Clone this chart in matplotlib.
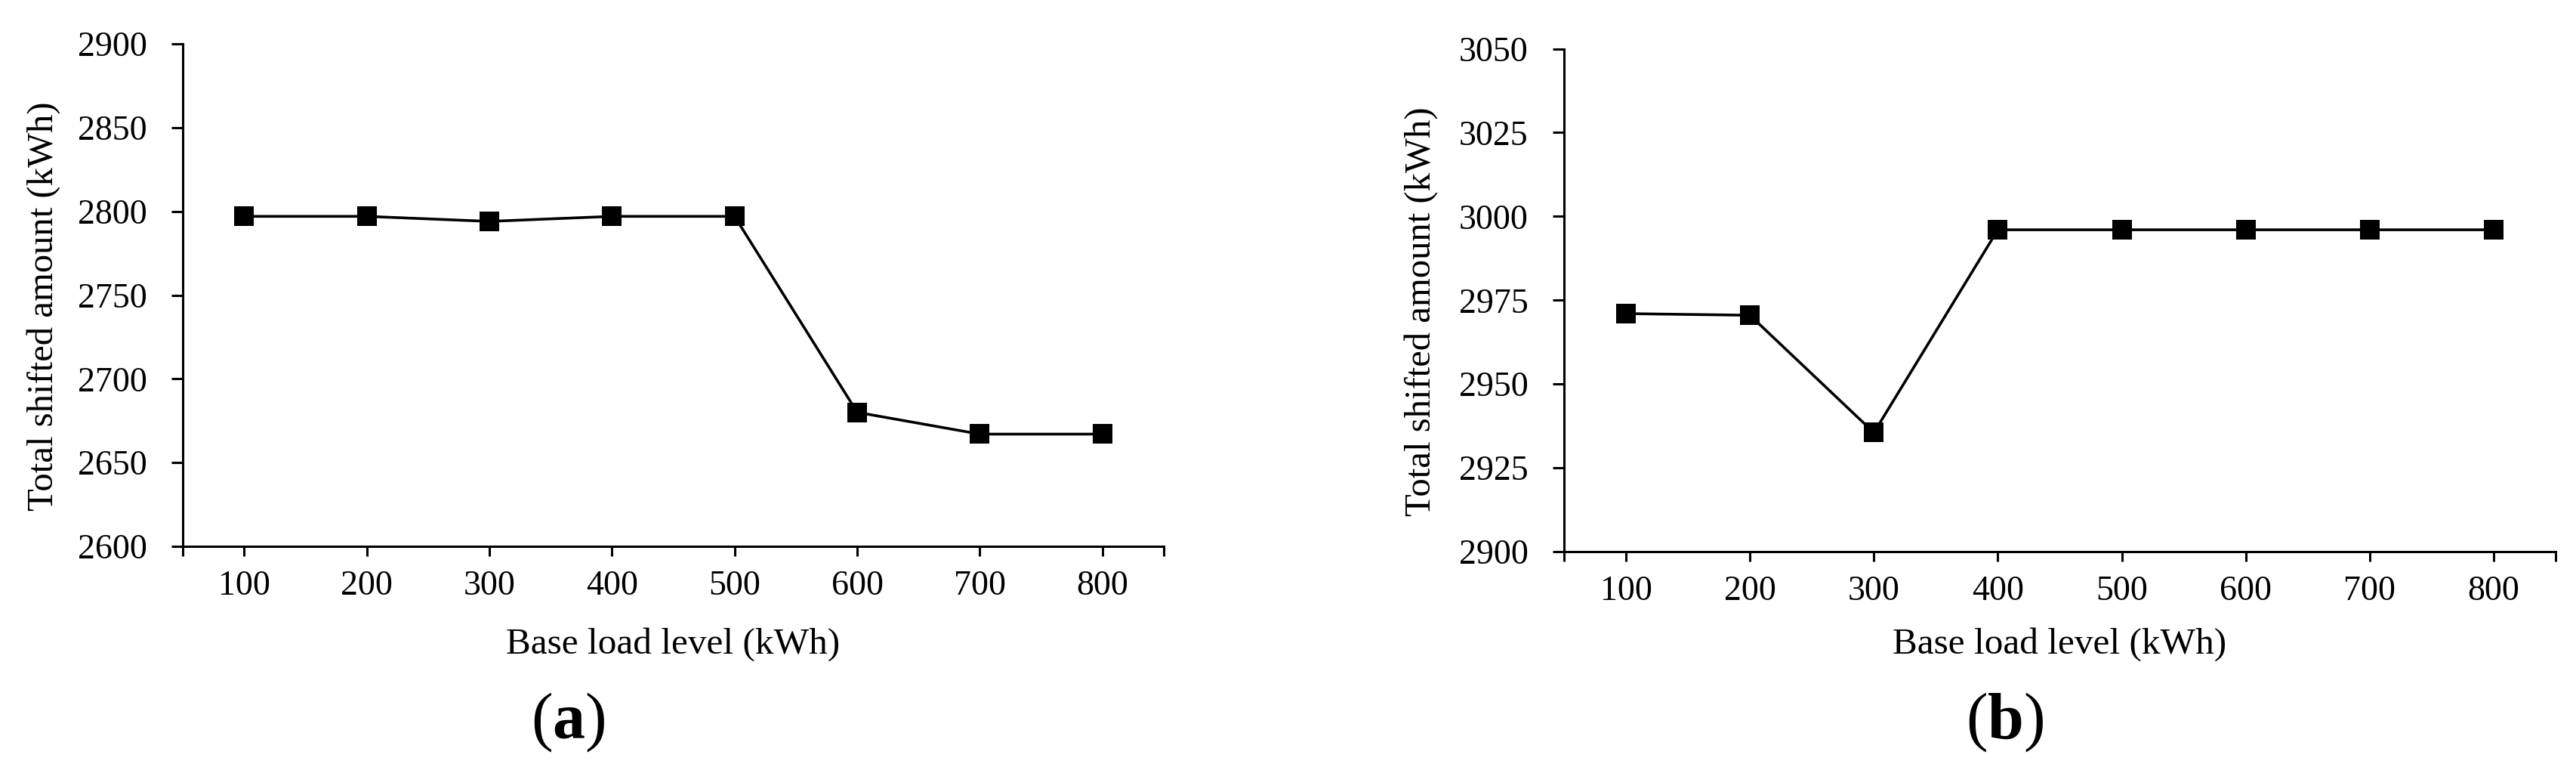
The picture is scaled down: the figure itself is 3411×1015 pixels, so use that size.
import numpy as np
import matplotlib
matplotlib.use('Agg')
import matplotlib.pyplot as plt

# Data
base_load = [100, 200, 300, 400, 500, 600, 700, 800]
shifted_a = [2797, 2797, 2794, 2797, 2797, 2680, 2667, 2667]
shifted_b = [2971, 2970.5, 2935.5, 2996, 2996, 2996, 2996, 2996]

yticks_a = [2600, 2650, 2700, 2750, 2800, 2850, 2900]
yticks_b = [2900, 2925, 2950, 2975, 3000, 3025, 3050]

xlabel = 'Base load level (kWh)'
ylabel = 'Total shifted amount (kWh)'

plt.rcParams.update({
    'font.family': 'Liberation Serif',
    'mathtext.fontset': 'custom',
    'mathtext.rm': 'Liberation Serif',
    'mathtext.bf': 'Liberation Serif:bold',
})

W, H = 3411, 1015
fig = plt.figure(figsize=(W / 100, H / 100), dpi=100)

# axes boxes in pixels: left, right, top, bottom
boxes = [(242, 1541, 58, 723), (2071, 3384, 64.5, 730)]
panels = [(shifted_a, yticks_a, 'a', 752, 58),
          (shifted_b, yticks_b, 'b', 2655, 1882)]

for (l, r, t, b), (vals, yt, letter, tag_x, ylab_x) in zip(boxes, panels):
    ax = fig.add_axes([l / W, 1 - b / H, (r - l) / W, (b - t) / H])
    ax.plot(base_load, vals, color='black', linewidth=2.6,
            marker='s', markersize=19, markeredgewidth=0)

    ax.set_xlim(50, 850)
    ax.set_ylim(yt[0], yt[-1])
    ax.set_yticks(yt)
    ax.set_xticks([50] + base_load + [850])
    ax.set_xticklabels([''] + [str(v) for v in base_load] + [''])

    for side in ['top', 'right']:
        ax.spines[side].set_visible(False)
    for side in ['left', 'bottom']:
        ax.spines[side].set_linewidth(2.2)

    ax.tick_params(axis='y', direction='out', length=11, width=2.2,
                   labelsize=33, pad=23)
    ax.tick_params(axis='x', direction='out', length=9, width=2.2,
                   labelsize=33, pad=14)

    cx = (l + r) / 2
    fig.text(cx / W, 1 - 865 / H, xlabel, ha='center', va='baseline',
             fontsize=35.5)
    fig.text(ylab_x / W, 1 - ((t + b) / 2 + 15) / H, ylabel, rotation=90,
             ha='center', va='center', fontsize=35)
    fig.text(tag_x / W, 1 - 977 / H, r'($\mathbf{' + letter + '}$)',
             ha='center', va='baseline', fontsize=62)

plt.savefig('out.png', dpi=100)
plt.close()
